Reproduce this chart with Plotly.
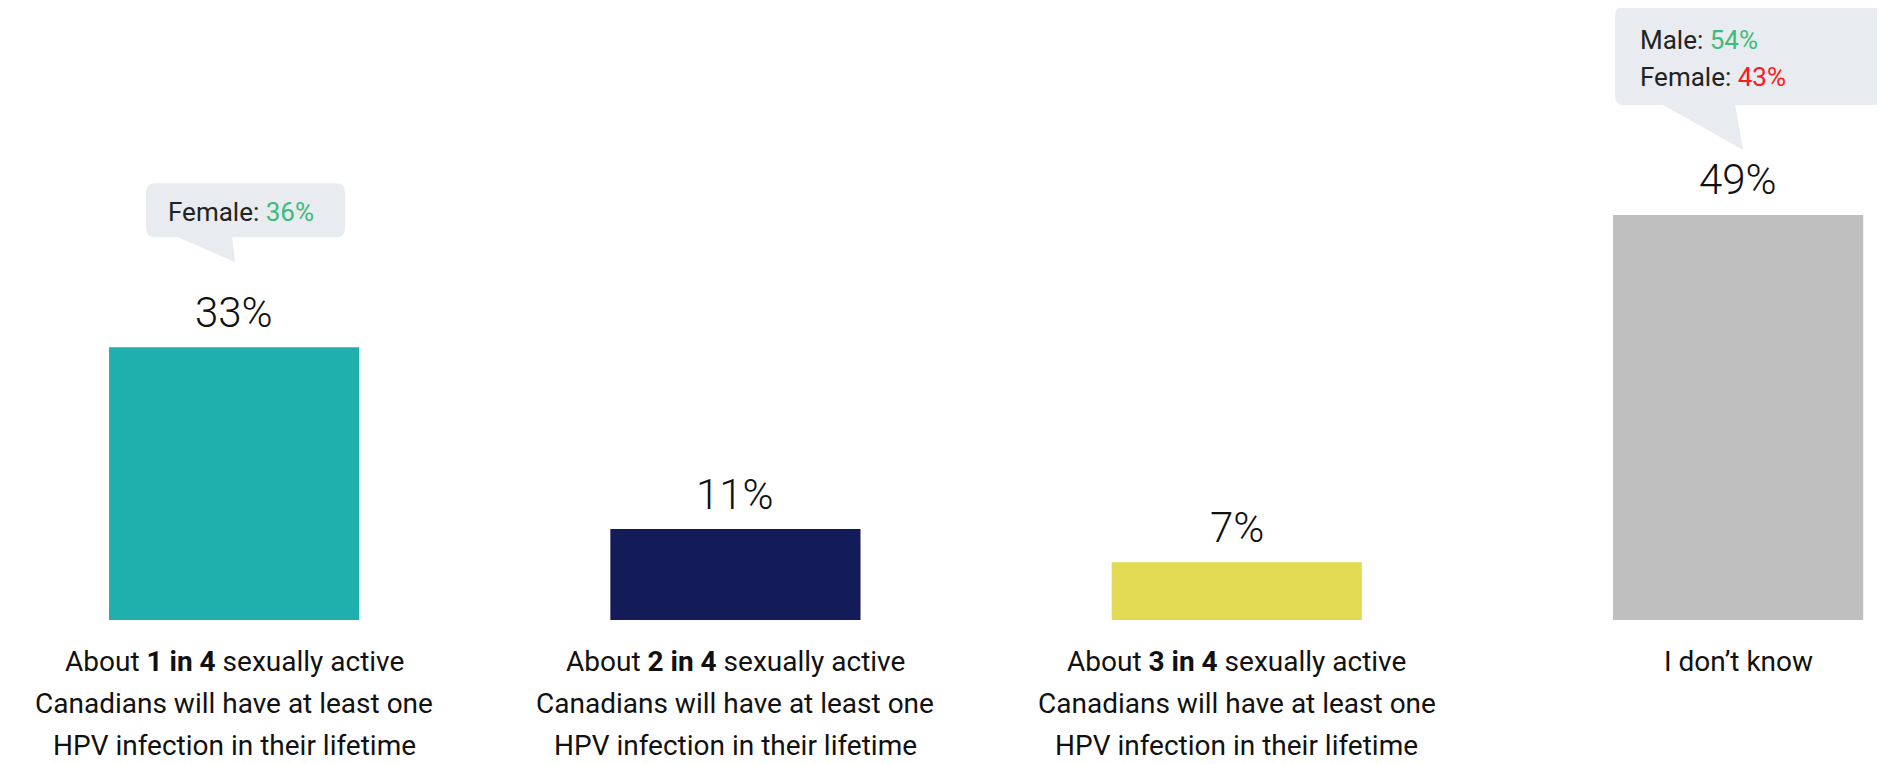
import plotly.graph_objects as go

# ---- data ----
categories = [
    ["About <b>1 in 4</b> sexually active", "Canadians will have at least one", "HPV infection in their lifetime"],
    ["About <b>2 in 4</b> sexually active", "Canadians will have at least one", "HPV infection in their lifetime"],
    ["About <b>3 in 4</b> sexually active", "Canadians will have at least one", "HPV infection in their lifetime"],
    ["I don\u2019t know"],
]
values = [33, 11, 7, 49]
value_labels = ["33%", "11%", "7%", "49%"]
bar_colors = ["#1fb0ae", "#131b59", "#e2da52", "#bfbfbf"]

# callouts: (category index, list of (label, value text, value colour))
callouts = [
    (0, [("Female:", "36%", "#3dbb7b")]),
    (3, [("Male:", "54%", "#3dbb7b"), ("Female:", "43%", "#ff1a1a")]),
]

FONT = "Roboto"
xs = list(range(len(values)))

fig = go.Figure()
fig.add_trace(go.Bar(
    x=xs, y=values, width=0.499,
    marker=dict(color=bar_colors, line=dict(width=0)),
    hoverinfo="skip",
))

annotations = []
shapes = []

# value labels above bars
for x, v, t in zip(xs, values, value_labels):
    annotations.append(dict(
        x=x, y=v, xref="x", yref="y", text=t, showarrow=False,
        xanchor="center", yanchor="middle", yshift=35,
        font=dict(family=FONT, size=42, color="#111111", weight=300),
    ))

# category labels below the axis
for x, lines in zip(xs, categories):
    for i, line in enumerate(lines):
        annotations.append(dict(
            x=x, y=0, xref="x", yref="y", text=line, showarrow=False,
            xanchor="center", yanchor="middle", yshift=-41 - 42 * i,
            borderpad=0,
            font=dict(family=FONT, size=28, color="#111111"),
        ))


def bubble_path(left, right, bottom, top, tail, r=9):
    tl, tr, tip = tail
    return (
        f"M{left + r},{top} L{right - r},{top} Q{right},{top} {right},{top - r} "
        f"L{right},{bottom + r} Q{right},{bottom} {right - r},{bottom} "
        f"L{tr},{bottom} L{tip[0]},{tip[1]} L{tl},{bottom} "
        f"L{left + r},{bottom} Q{left},{bottom} {left},{bottom + r} "
        f"L{left},{top - r} Q{left},{top} {left + r},{top} Z"
    )


bubble_geom = {
    0: dict(left=-88, right=111, bottom=110, top=164, tail=(-56, -2, (1, 85)),
            text_x=-68, text_y=[135]),
    3: dict(left=-123, right=170, bottom=110, top=208, tail=(-75, -3, (5, 65)),
            text_x=-100, text_y=[175, 138]),
}

for idx, rows in callouts:
    g = bubble_geom[idx]
    shapes.append(dict(
        type="path", xref="x", yref="y", xsizemode="pixel", ysizemode="pixel",
        xanchor=idx, yanchor=values[idx],
        path=bubble_path(g["left"], g["right"], g["bottom"], g["top"], g["tail"]),
        fillcolor="#e8ebef", line=dict(width=0), layer="above",
    ))
    for (lab, val, col), ty in zip(rows, g["text_y"]):
        annotations.append(dict(
            x=idx, y=values[idx], xref="x", yref="y",
            text=f"{lab} <span style='color:{col}'>{val}</span>",
            showarrow=False, xanchor="left", yanchor="middle",
            xshift=g["text_x"], yshift=ty,
            font=dict(family=FONT, size=26, color="#222222"),
        ))

fig.update_layout(
    width=1877, height=756,
    margin=dict(l=0, r=0, t=0, b=144),
    paper_bgcolor="white", plot_bgcolor="white",
    showlegend=False,
    xaxis=dict(range=[-0.451, 3.293], visible=False, fixedrange=True),
    yaxis=dict(range=[0, 74.03], visible=False, fixedrange=True),
    annotations=annotations, shapes=shapes,
)

fig.write_html("out.html", config={"displayModeBar": False})
